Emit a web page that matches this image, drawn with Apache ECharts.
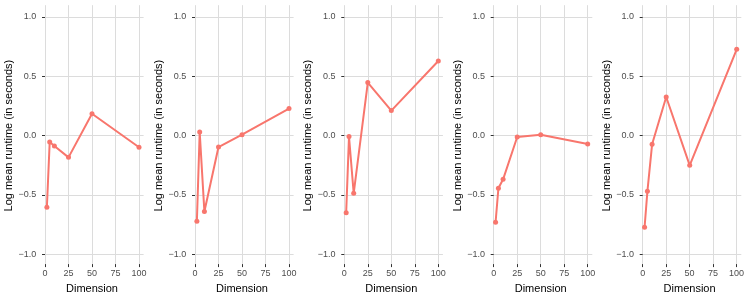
<!DOCTYPE html>
<html>
<head>
<meta charset="utf-8">
<script src="https://cdn.jsdelivr.net/npm/echarts@6/dist/echarts.min.js"></script>
<style>html,body{margin:0;padding:0;background:#fff}#c{width:747px;height:299px}</style>
</head>
<body>
<div id="c"></div>
<script>
const dimensions = [2, 5, 10, 25, 50, 100];
const panel1 = [-0.604, -0.053, -0.087, -0.183, 0.185, -0.098];
const panel2 = [-0.722, 0.031, -0.640, -0.096, 0.008, 0.228];
const panel3 = [-0.649, -0.008, -0.486, 0.447, 0.211, 0.629];
const panel4 = [-0.730, -0.444, -0.368, -0.011, 0.008, -0.070];
const panel5 = [-0.772, -0.469, -0.073, 0.326, -0.250, 0.728];
const panels = [panel1, panel2, panel3, panel4, panel5];
const xTicks = [0, 25, 50, 75, 100];
const yTicks = [-1.0, -0.5, 0.0, 0.5, 1.0];
const xTitle = 'Dimension';
const yTitle = 'Log mean runtime (in seconds)';

const zeroX = [45, 195, 344.3, 493.7, 642.7];
const pxPerUnit = 0.94;
const xMin = -2.9, xMax = 104.9;
const font = 'Liberation Sans, Arial, Helvetica, sans-serif';
const gridColor = '#dcdcdc';

const grids = [], xAxes = [], yAxes = [], series = [];
panels.forEach((vals, i) => {
  const x0 = zeroX[i];
  // Grid for horizontal lines + data
  grids.push({left: x0 + xMin * pxPerUnit, width: (xMax - xMin) * pxPerUnit, top: 17, height: 237.3, containLabel: false});
  // Grid for vertical lines + x-axis
  grids.push({left: x0, width: 100 * pxPerUnit, top: 5.2, height: 260.7, containLabel: false});
  const gH = 2 * i, gV = 2 * i + 1;
  xAxes.push({gridIndex: gH, type: 'value', min: xMin, max: xMax, show: false});
  yAxes.push({
    gridIndex: gH, type: 'value', min: yTicks[0], max: yTicks[yTicks.length - 1], interval: 0.5,
    axisLine: {show: false},
    axisTick: {show: true, length: 3, lineStyle: {color: '#333', width: 1}},
    axisLabel: {margin: 6, color: '#4d4d4d', fontSize: 9, fontFamily: font, formatter: v => v.toFixed(1).replace('-', '\u2212')},
    splitLine: {show: true, lineStyle: {color: gridColor, width: 1}},
    name: yTitle, nameLocation: 'middle', nameGap: 26,
    nameTextStyle: {color: '#000', fontSize: 11, fontFamily: font}
  });
  xAxes.push({
    gridIndex: gV, type: 'value', min: xTicks[0], max: xTicks[xTicks.length - 1], interval: 25,
    axisLine: {show: false},
    axisTick: {show: true, length: 3, lineStyle: {color: '#333', width: 1}},
    axisLabel: {margin: 5, color: '#4d4d4d', fontSize: 9, fontFamily: font, showMinLabel: true, showMaxLabel: true},
    splitLine: {show: true, lineStyle: {color: gridColor, width: 1}},
    name: xTitle, nameLocation: 'middle', nameGap: 16,
    nameTextStyle: {color: '#000', fontSize: 11, fontFamily: font}
  });
  yAxes.push({gridIndex: gV, type: 'value', min: 0, max: 1, show: false});
  series.push({
    type: 'line', xAxisIndex: gH, yAxisIndex: gH,
    data: dimensions.map((d, k) => [d, vals[k]]),
    symbol: 'circle', symbolSize: 5, showSymbol: true,
    lineStyle: {color: '#F8766D', width: 2},
    itemStyle: {color: '#F8766D'},
    animation: false, z: 5
  });
});

const chart = echarts.init(document.getElementById('c'), null, {renderer: 'canvas'});
chart.setOption({animation: false, grid: grids, xAxis: xAxes, yAxis: yAxes, series: series});
</script>
</body>
</html>
